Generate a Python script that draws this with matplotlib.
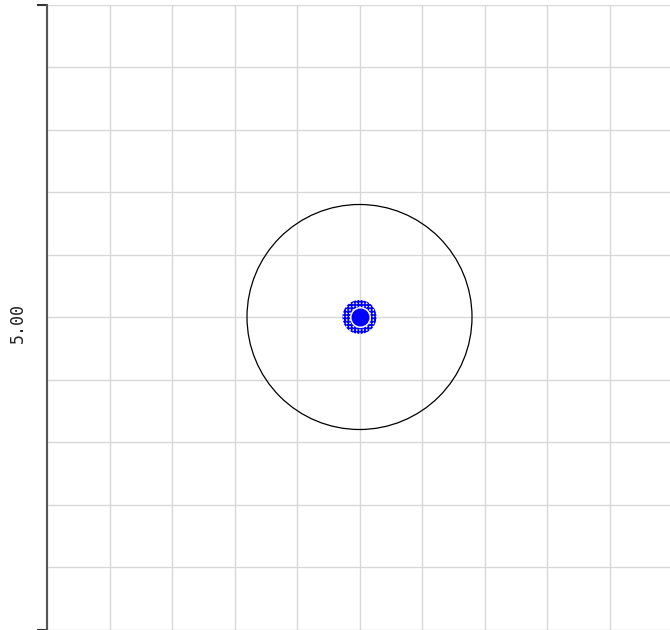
import matplotlib
matplotlib.use("Agg")
import matplotlib.pyplot as plt
from matplotlib.patches import Circle

# data
center_x = [5.0]
center_y = [5.0]
circle_radius = 1.8
x_range = (0, 10)
y_range = (0, 10)
grid_ticks = [0, 1, 2, 3, 4, 5, 6, 7, 8, 9, 10]
y_label = "5.00"

W, H = 670, 630
fig = plt.figure(figsize=(W / 100, H / 100), dpi=100)
ax = fig.add_axes([47 / W, 0.5 / H, 625 / W, 625 / H])
ax.set_xlim(*x_range)
ax.set_ylim(*y_range)

for t in grid_ticks:
    ax.axvline(t, color="#d8d8d8", lw=1.0, zorder=0)
    ax.axhline(t, color="#d8d8d8", lw=1.0, zorder=0)

for s in ["top", "right", "bottom"]:
    ax.spines[s].set_visible(False)
ax.spines["left"].set_color("#555555")
ax.spines["left"].set_linewidth(1.5)
ax.set_xticks([])
ax.set_yticks([y_range[0], y_range[1]])
ax.set_yticklabels(["", ""])
ax.tick_params(axis="y", length=7, width=1.5, color="#333333")

ax.set_ylabel(y_label, family="DejaVu Sans Mono", fontsize=12, color="#222222",
              va="center", ha="center")
ax.yaxis.set_label_coords(18 / W, (H - 323) / H, transform=fig.transFigure)

ax.add_patch(Circle((center_x[0], center_y[0]), circle_radius, fill=False,
                    edgecolor="black", lw=0.9, zorder=2))

# marker: hatched ring + white gap + solid disc
plt.rcParams["hatch.linewidth"] = 1.2
ax.scatter(center_x, center_y, s=(34 * 0.72) ** 2, marker="o", facecolor="none",
           edgecolor="blue", hatch="+++++", linewidths=0, zorder=3)
ax.scatter(center_x, center_y, s=(21 * 0.72) ** 2, marker="o", color="white",
           linewidths=0, zorder=4)
ax.scatter(center_x, center_y, s=(18 * 0.72) ** 2, marker="o", color="blue",
           linewidths=0, zorder=5)

fig.savefig("out.png", dpi=100)
